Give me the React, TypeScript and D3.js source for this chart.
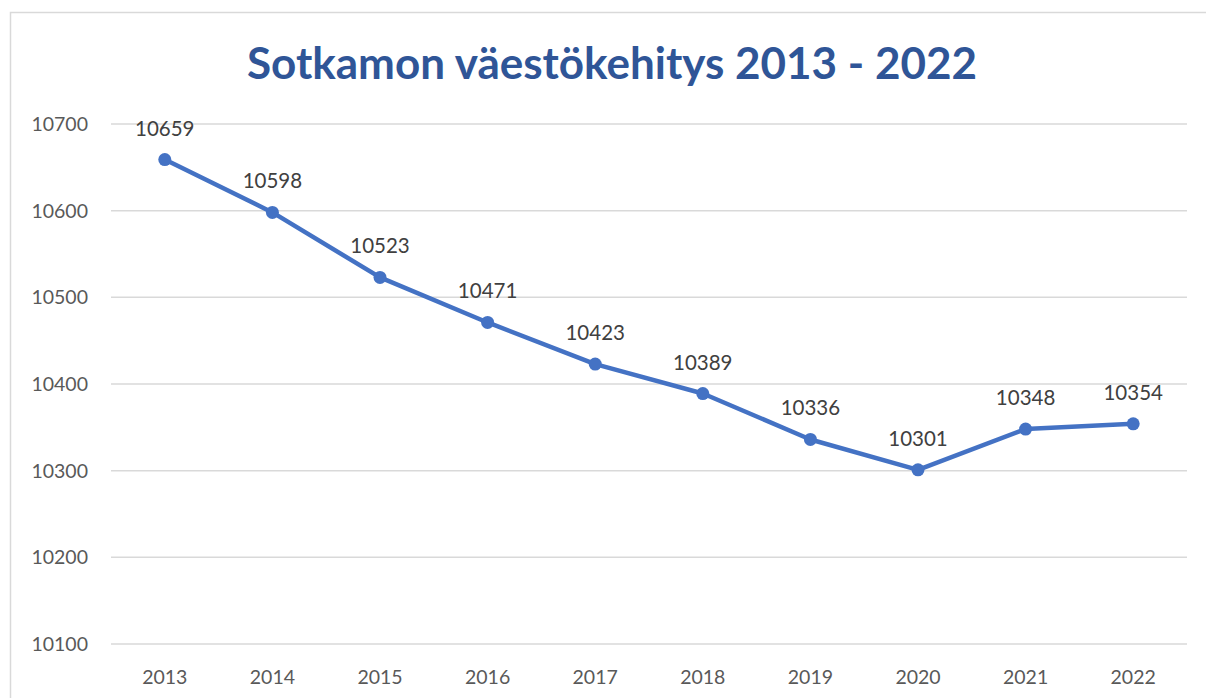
import React, { useEffect, useRef } from 'react';
import * as d3 from 'd3';

const years = ['2013', '2014', '2015', '2016', '2017', '2018', '2019', '2020', '2021', '2022'];
const population = [10659, 10598, 10523, 10471, 10423, 10389, 10336, 10301, 10348, 10354];
const yTicks = [10100, 10200, 10300, 10400, 10500, 10600, 10700];

const App = () => {
  const svgRef = useRef<SVGSVGElement>(null);

  useEffect(() => {
    const svg = d3.select(svgRef.current);
    svg.selectAll('*').remove();

    const font = 'Lato, "Open Sans", sans-serif';

    // cadre
    svg.append('rect')
      .attr('x', 10.5).attr('y', 12.5)
      .attr('width', 1210).attr('height', 700)
      .attr('fill', 'white')
      .attr('stroke', '#d9d9d9')
      .attr('stroke-width', 1.5);

    svg.append('text')
      .attr('x', 612).attr('y', 79)
      .attr('text-anchor', 'middle')
      .attr('font-family', font)
      .attr('font-weight', 'bold')
      .attr('font-size', '44px')
      .attr('fill', '#2f5597')
      .text('Sotkamon väestökehitys 2013 - 2022');

    const x = d3.scaleBand().domain(years).range([111, 1187]);
    const y = d3.scaleLinear().domain([10100, 10700]).range([644, 124]);

    // grille
    svg.selectAll('line.grid')
      .data(yTicks)
      .enter()
      .append('line')
      .attr('x1', 111).attr('x2', 1187)
      .attr('y1', d => y(d)).attr('y2', d => y(d))
      .attr('stroke', '#d9d9d9')
      .attr('stroke-width', 1.5);

    svg.selectAll('text.ytick')
      .data(yTicks)
      .enter()
      .append('text')
      .attr('x', 88).attr('y', d => y(d) + 7)
      .attr('text-anchor', 'end')
      .attr('font-family', font)
      .attr('font-size', '19.5px')
      .attr('fill', '#595959')
      .text(d => d);

    svg.selectAll('text.xtick')
      .data(years)
      .enter()
      .append('text')
      .attr('x', d => x(d)! + x.bandwidth() / 2)
      .attr('y', 684)
      .attr('text-anchor', 'middle')
      .attr('font-family', font)
      .attr('font-size', '19.5px')
      .attr('fill', '#595959')
      .text(d => d);

    const cx = (i: number) => x(years[i])! + x.bandwidth() / 2;

    const line = d3.line<number>()
      .x((d, i) => cx(i))
      .y(d => y(d));

    svg.append('path')
      .datum(population)
      .attr('d', line)
      .attr('fill', 'none')
      .attr('stroke', '#4472c4')
      .attr('stroke-width', 4.5)
      .attr('stroke-linejoin', 'round');

    svg.selectAll('circle')
      .data(population)
      .enter()
      .append('circle')
      .attr('cx', (d, i) => cx(i))
      .attr('cy', d => y(d))
      .attr('r', 6.5)
      .attr('fill', '#4472c4');

    svg.selectAll('text.label')
      .data(population)
      .enter()
      .append('text')
      .attr('x', (d, i) => cx(i))
      .attr('y', d => y(d) - 24)
      .attr('text-anchor', 'middle')
      .attr('font-family', font)
      .attr('font-size', '20.5px')
      .attr('fill', '#404040')
      .text(d => d);
  }, []);

  return <svg ref={svgRef} width={1206} height={698} style={{ position: 'absolute', left: 0, top: 0 }}></svg>;
};

export default App;
